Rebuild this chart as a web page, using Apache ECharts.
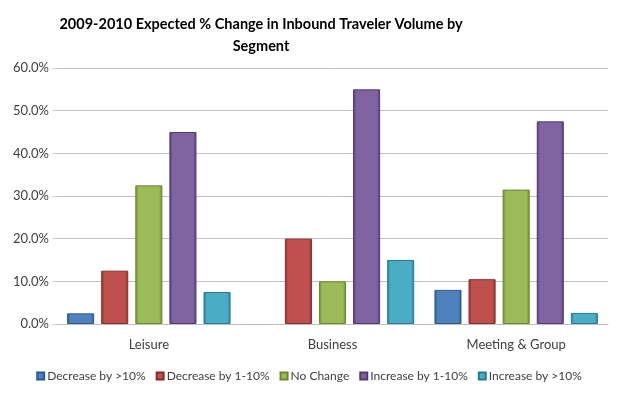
<!DOCTYPE html>
<html>
<head>
<meta charset="utf-8">
<script src="https://cdn.jsdelivr.net/npm/echarts@6/dist/echarts.min.js"></script>
<style>
  html, body { margin: 0; padding: 0; background: #fff; }
  #chart { width: 618px; height: 397px; }
</style>
</head>
<body>
<div id="chart"></div>
<script>
  // 分类和数据
  const categories = ['Leisure', 'Business', 'Meeting & Group'];
  const seriesNames = ['Decrease by >10%', 'Decrease by 1-10%', 'No Change', 'Increase by 1-10%', 'Increase by >10%'];
  const decreaseMore = [2.5, 0, 8.0];
  const decreaseLess = [12.5, 20.0, 10.5];
  const noChange = [32.5, 10.0, 31.5];
  const increaseLess = [45.0, 55.0, 47.5];
  const increaseMore = [7.5, 15.0, 2.6];
  const yTicks = [0, 10, 20, 30, 40, 50, 60];

  const values = [decreaseMore, decreaseLess, noChange, increaseLess, increaseMore];
  const colors = [
    ['#4f81bd', '#2c5a8f'],
    ['#c0504d', '#8c2c2a'],
    ['#9bbb59', '#6a8a2c'],
    ['#8064a2', '#523a73'],
    ['#4bacc6', '#237d96']
  ];

  const chart = echarts.init(document.getElementById('chart'));

  const series = seriesNames.map((name, i) => ({
    name: name,
    type: 'bar',
    // 0值不画边框
    data: values[i].map(v => v === 0 ? { value: 0, itemStyle: { borderWidth: 0 } } : v),
    barGap: '26%',
    barCategoryGap: '11%',
    itemStyle: {
      color: new echarts.graphic.LinearGradient(0, 0, 1, 0, [
        { offset: 0, color: colors[i][1] },
        { offset: 0.12, color: colors[i][0] },
        { offset: 0.88, color: colors[i][0] },
        { offset: 1, color: colors[i][1] }
      ]),
      borderColor: colors[i][1],
      borderWidth: 1
    }
  }));

  chart.setOption({
    animation: false,
    title: {
      text: '2009-2010 Expected % Change in Inbound Traveler Volume by\nSegment',
      left: 256,
      textAlign: 'center',
      top: 8,
      textStyle: {
        fontFamily: 'Lato',
        fontWeight: 'bold',
        fontSize: 14.5,
        color: '#000',
        lineHeight: 22
      }
    },
    legend: {
      data: seriesNames,
      bottom: 10,
      left: 'center',
      itemWidth: 7,
      itemHeight: 7,
      itemGap: 10,
      icon: 'rect',
      textStyle: { fontFamily: 'Lato', fontSize: 12, color: '#404040', padding: [0, 0, 0, -2] }
    },
    grid: {
      left: 57,
      right: 10,
      top: 68,
      bottom: 73
    },
    xAxis: {
      type: 'category',
      data: categories,
      axisLine: { lineStyle: { color: '#bfbfbf' } },
      axisTick: { show: false },
      axisLabel: { fontFamily: 'Lato', fontSize: 13, color: '#404040', margin: 14 }
    },
    yAxis: {
      type: 'value',
      min: yTicks[0],
      max: yTicks[yTicks.length - 1],
      interval: 10,
      axisLine: { show: false },
      axisTick: { show: true, length: 5, lineStyle: { color: '#d0d0d0' } },
      axisLabel: {
        fontFamily: 'Lato',
        fontSize: 13,
        color: '#404040',
        margin: 8,
        formatter: v => v.toFixed(1) + '%'
      },
      splitLine: { lineStyle: { color: '#c0c0c0', width: 1 } }
    },
    series: series
  });
</script>
</body>
</html>
